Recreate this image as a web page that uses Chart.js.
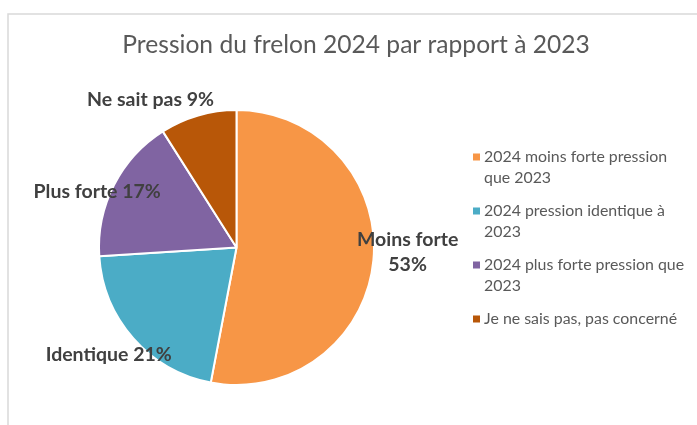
<!DOCTYPE html>
<html>
<head>
<meta charset="utf-8">
<script src="https://cdn.jsdelivr.net/npm/chart.js@4/dist/chart.umd.min.js"></script>
<style>
  html, body { margin: 0; padding: 0; background: #fff; }
  #wrap { width: 697px; height: 425px; position: relative; }
</style>
</head>
<body>
<div id="wrap"><canvas id="c" width="697" height="425"></canvas></div>
<script>
const titleText = "Pression du frelon 2024 par rapport à 2023";
const categories = [
  "2024 moins forte pression que 2023",
  "2024 pression identique à 2023",
  "2024 plus forte pression que 2023",
  "Je ne sais pas, pas concerné"
];
const legendLines = [
  ["2024 moins forte pression", "que 2023"],
  ["2024 pression identique à", "2023"],
  ["2024 plus forte pression que", "2023"],
  ["Je ne sais pas, pas concerné"]
];
const shortNames = ["Moins forte", "Identique", "Plus forte", "Ne sait pas"];
const values = [53, 21, 17, 9];
const colors = ["#F79646", "#4BACC6", "#8064A2", "#B85708"];

// label placement style (distance factor from centre, pixel nudges, line break)
const labelStyle = [
  { f: 1.25, dx: 0, dy: -12, split: true },
  { f: 1.20, dx: -4, dy: -2, split: false },
  { f: 1.08, dx: -7, dy: 12, split: false },
  { f: 1.25, dx: -38, dy: 17, split: false }
];

const FONT = "Lato, 'Open Sans', sans-serif";

const decor = {
  id: 'decor',
  beforeDraw(chart) {
    const ctx = chart.ctx;
    ctx.save();
    ctx.strokeStyle = '#D9D9D9';
    ctx.lineWidth = 1.5;
    ctx.strokeRect(8, 14, 900, 600);
    ctx.fillStyle = '#595959';
    ctx.font = "24.6px " + FONT;
    ctx.textAlign = 'center';
    ctx.textBaseline = 'middle';
    ctx.fillText(titleText, 356, 45);
    ctx.restore();
  },
  afterDraw(chart) {
    const ctx = chart.ctx;
    const meta = chart.getDatasetMeta(0);
    ctx.save();
    // data labels
    ctx.fillStyle = '#404040';
    ctx.font = "bold 19.5px " + FONT;
    ctx.textAlign = 'center';
    ctx.textBaseline = 'middle';
    meta.data.forEach((arc, i) => {
      const p = arc.getProps(['x', 'y', 'startAngle', 'endAngle', 'outerRadius'], true);
      const mid = (p.startAngle + p.endAngle) / 2;
      const st = labelStyle[i];
      const cx = p.x + Math.cos(mid) * p.outerRadius * st.f + st.dx;
      const cy = p.y + Math.sin(mid) * p.outerRadius * st.f + st.dy;
      const pct = values[i] + '%';
      if (st.split) {
        ctx.fillText(shortNames[i], cx, cy - 12);
        ctx.fillText(pct, cx, cy + 13);
      } else {
        ctx.fillText(shortNames[i] + ' ' + pct, cx, cy);
      }
    });
    // legend
    ctx.font = "15.9px " + FONT;
    ctx.textAlign = 'left';
    let y = 157;
    legendLines.forEach((lines, i) => {
      ctx.fillStyle = colors[i];
      ctx.fillRect(473, y - 3.5, 7, 7);
      ctx.fillStyle = '#595959';
      lines.forEach((ln, k) => {
        ctx.fillText(ln, 484, y + k * 21);
      });
      y += 54;
    });
    ctx.restore();
  }
};

new Chart(document.getElementById('c'), {
  type: 'pie',
  data: {
    labels: categories,
    datasets: [{
      data: values,
      backgroundColor: colors,
      borderColor: '#FFFFFF',
      borderWidth: 2
    }]
  },
  options: {
    responsive: false,
    animation: false,
    layout: { padding: { left: 98, right: 322, top: 109, bottom: 39 } },
    plugins: {
      legend: { display: false },
      title: { display: false },
      tooltip: { enabled: false }
    }
  },
  plugins: [decor]
});
</script>
</body>
</html>
